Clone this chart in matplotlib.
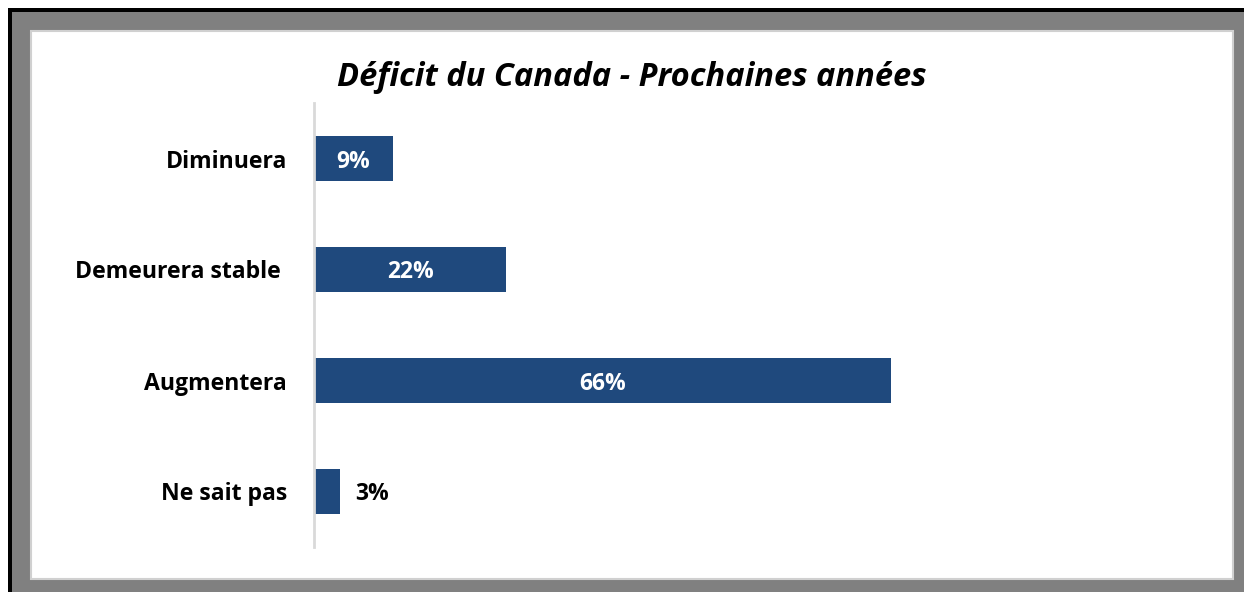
import matplotlib.pyplot as plt
from matplotlib.patches import Rectangle

categories = ['Diminuera', 'Demeurera stable ', 'Augmentera', 'Ne sait pas']
values = [9, 22, 66, 3]
inside = [True, True, True, False]

plt.rcParams['font.family'] = ['Open Sans', 'DejaVu Sans']

W, H = 1244, 592
fig = plt.figure(figsize=(W / 100, H / 100), dpi=100)
fig.patch.set_facecolor('white')

def px(x0, y0, x1, y1):
    # pixel box (top-left origin) -> figure fraction
    return x0 / W, 1 - y1 / H, (x1 - x0) / W, (y1 - y0) / H

# frame: black shadow, grey border, white panel
x, y, w, h = px(8, 8, 1260, 610)
fig.patches.append(Rectangle((x, y), w, h, transform=fig.transFigure,
                             facecolor='black', edgecolor='none', zorder=0))
x, y, w, h = px(12, 12, 1260, 610)
fig.patches.append(Rectangle((x, y), w, h, transform=fig.transFigure,
                             facecolor='#808080', edgecolor='none', zorder=0.5))
x, y, w, h = px(31, 31, 1233, 579)
fig.patches.append(Rectangle((x, y), w, h, transform=fig.transFigure,
                             facecolor='white', edgecolor='#d0d0d0', lw=1.5, zorder=1))

ax = fig.add_axes(px(314, 103, 1188, 547))
ax.set_facecolor('none')
ax.set_zorder(2)

pos = list(range(len(categories)))
ax.barh(pos, values, height=0.4, color='#1f497d')
ax.set_xlim(0, 100)
ax.set_ylim(3.5, -0.5)

for p, v, ins in zip(pos, values, inside):
    if ins:
        ax.text(v / 2, p, f'{v}%', ha='center', va='center_baseline', color='white',
                fontsize=16.5, fontweight='bold')
    else:
        ax.text(v + 1.7, p, f'{v}%', ha='left', va='center_baseline', color='black',
                fontsize=16.5, fontweight='bold')

ax.set_yticks(pos)
ax.set_yticklabels(categories, fontsize=16.6, fontweight='bold')
ax.tick_params(axis='y', length=0, pad=19.5)
ax.set_xticks([])
for s in ['top', 'right', 'bottom']:
    ax.spines[s].set_visible(False)
ax.spines['left'].set_color('#d9d9d9')
ax.spines['left'].set_linewidth(2)

fig.text(632 / W, 1 - 77 / H, 'Déficit du Canada - Prochaines années', ha='center',
         va='center', fontsize=23.5, fontweight='bold', fontstyle='italic', zorder=3)

fig.savefig('out.png', dpi=100)
